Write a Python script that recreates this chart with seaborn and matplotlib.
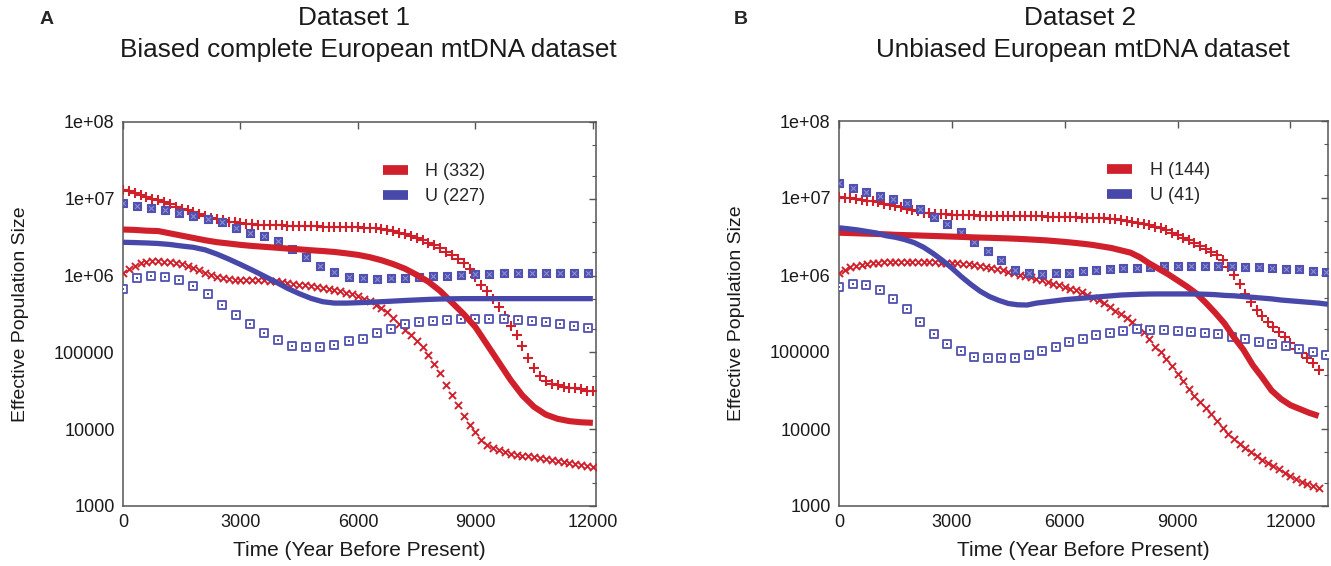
import numpy as np
import pandas as pd
import matplotlib
matplotlib.use("Agg")
import matplotlib.pyplot as plt
import seaborn as sns
from matplotlib.lines import Line2D
from matplotlib.ticker import LogLocator, FixedLocator, FixedFormatter, NullFormatter

# ---------------- data (log10 of effective population size) ----------------
# Dataset 1 (panel A)
t1_dense = np.arange(0, 12001, 150)      # red marker series
t1_med = np.arange(0, 12001, 300)        # median lines
t1_sq = np.arange(0, 11881, 360)         # blue marker series

h1_upper = [7.12, 7.097, 7.074, 7.05, 7.025, 7.002, 6.978, 6.956, 6.927, 6.897,
            6.872, 6.848, 6.823, 6.80, 6.777, 6.755, 6.737, 6.718, 6.703, 6.692,
            6.68, 6.675, 6.67, 6.665, 6.66, 6.658, 6.655, 6.653, 6.65, 6.648,
            6.646, 6.644, 6.642, 6.64, 6.638, 6.636, 6.634, 6.633, 6.632, 6.63,
            6.627, 6.624, 6.62, 6.617, 6.61, 6.60, 6.578, 6.56, 6.538, 6.513,
            6.487, 6.46, 6.43, 6.395, 6.36, 6.31, 6.27, 6.22, 6.16, 6.08,
            5.98, 5.88, 5.80, 5.70, 5.585, 5.47, 5.34, 5.226, 5.085, 4.93,
            4.80, 4.69, 4.63, 4.59, 4.57, 4.55, 4.54, 4.53, 4.52, 4.50, 4.495]
h1_lower = [6.04, 6.09, 6.13, 6.16, 6.18, 6.187, 6.187, 6.18, 6.174, 6.16,
            6.147, 6.122, 6.10, 6.067, 6.033, 6.007, 5.983, 5.965, 5.955, 5.948,
            5.948, 5.948, 5.947, 5.944, 5.94, 5.935, 5.928, 5.915, 5.905, 5.895,
            5.884, 5.873, 5.862, 5.851, 5.84, 5.827, 5.813, 5.795, 5.777, 5.758,
            5.731, 5.70, 5.665, 5.62, 5.575, 5.52, 5.445, 5.37, 5.295, 5.225,
            5.152, 5.065, 4.96, 4.85, 4.73, 4.58, 4.45, 4.31, 4.175, 4.06,
            3.97, 3.86, 3.80, 3.755, 3.725, 3.70, 3.68, 3.67, 3.656, 3.645,
            3.632, 3.62, 3.61, 3.60, 3.58, 3.57, 3.56, 3.55, 3.54, 3.525, 3.51]
h1_median = [6.60, 6.595, 6.585, 6.58, 6.55, 6.52, 6.49, 6.46, 6.435, 6.418,
             6.40, 6.386, 6.375, 6.364, 6.352, 6.342, 6.33, 6.32, 6.308, 6.29,
             6.27, 6.24, 6.20, 6.15, 6.09, 6.01, 5.92, 5.80, 5.65, 5.50,
             5.33, 5.10, 4.87, 4.64, 4.44, 4.29, 4.19, 4.135, 4.105, 4.09, 4.083]
u1_median = [6.434, 6.43, 6.425, 6.418, 6.405, 6.385, 6.368, 6.335, 6.28, 6.215,
             6.145, 6.072, 5.995, 5.917, 5.835, 5.765, 5.704, 5.66, 5.642, 5.642,
             5.647, 5.653, 5.66, 5.668, 5.676, 5.683, 5.69, 5.695, 5.698, 5.70,
             5.70, 5.70, 5.70, 5.70, 5.70, 5.70, 5.70, 5.70, 5.70, 5.70, 5.70]
u1_upper = [6.94, 6.91, 6.88, 6.85, 6.81, 6.78, 6.74, 6.70, 6.62, 6.56,
            6.51, 6.45, 6.35, 6.24, 6.13, 6.05, 5.98, 5.97, 5.96, 5.97,
            5.97, 5.98, 5.99, 6.00, 6.01, 6.02, 6.02, 6.03, 6.03, 6.03,
            6.03, 6.03, 6.03, 6.03]
u1_lower = [5.83, 5.97, 6.00, 5.98, 5.94, 5.86, 5.76, 5.62, 5.49, 5.37,
            5.25, 5.16, 5.08, 5.07, 5.07, 5.10, 5.15, 5.18, 5.25, 5.31,
            5.37, 5.39, 5.41, 5.42, 5.43, 5.44, 5.44, 5.43, 5.42, 5.41,
            5.39, 5.37, 5.35, 5.32]

# Dataset 2 (panel B)
t2_dense = np.arange(0, 12751, 150)
t2_hmed = np.arange(0, 12751, 250)
t2_umed = np.arange(0, 13001, 250)
t2_sq = np.arange(0, 12961, 360)

h2_upper = [7.015, 7.006, 6.998, 6.99, 6.978, 6.966, 6.955, 6.943, 6.926, 6.911,
            6.895, 6.877, 6.86, 6.842, 6.826, 6.811, 6.80, 6.795, 6.79, 6.786,
            6.782, 6.778, 6.776, 6.775, 6.773, 6.772, 6.771, 6.769, 6.768, 6.768,
            6.767, 6.766, 6.766, 6.765, 6.763, 6.762, 6.76, 6.758, 6.757, 6.755,
            6.753, 6.75, 6.748, 6.746, 6.744, 6.742, 6.739, 6.736, 6.731, 6.725,
            6.71, 6.70, 6.69, 6.676, 6.66, 6.645, 6.627, 6.605, 6.58, 6.55,
            6.52, 6.485, 6.45, 6.415, 6.38, 6.34, 6.30, 6.265, 6.19, 6.10,
            6.00, 5.88, 5.75, 5.65, 5.55, 5.47, 5.395, 5.33, 5.265, 5.195,
            5.12, 5.035, 4.99, 4.925, 4.86, 4.77]
h2_lower = [6.022, 6.06, 6.10, 6.12, 6.136, 6.148, 6.156, 6.162, 6.165, 6.167,
            6.168, 6.168, 6.168, 6.168, 6.168, 6.168, 6.168, 6.168, 6.161, 6.157,
            6.154, 6.151, 6.145, 6.138, 6.13, 6.118, 6.106, 6.095, 6.078, 6.06,
            6.043, 6.024, 6.005, 5.987, 5.97, 5.95, 5.933, 5.911, 5.889, 5.866,
            5.845, 5.824, 5.80, 5.777, 5.745, 5.707, 5.672, 5.63, 5.585, 5.537,
            5.49, 5.441, 5.395, 5.33, 5.26, 5.17, 5.07, 4.995, 4.915, 4.815,
            4.718, 4.62, 4.52, 4.423, 4.35, 4.275, 4.19, 4.10, 4.016, 3.94,
            3.868, 3.806, 3.75, 3.698, 3.65, 3.60, 3.56, 3.522, 3.478, 3.427,
            3.39, 3.354, 3.317, 3.28, 3.255, 3.23]
h2_median = [6.549, 6.545, 6.541, 6.537, 6.533, 6.528, 6.522, 6.518, 6.515, 6.511,
             6.507, 6.503, 6.499, 6.495, 6.49, 6.486, 6.483, 6.479, 6.475, 6.47,
             6.464, 6.457, 6.45, 6.44, 6.43, 6.418, 6.405, 6.39, 6.37, 6.35,
             6.32, 6.29, 6.23, 6.15, 6.08, 6.01, 5.93, 5.85, 5.76, 5.64,
             5.51, 5.37, 5.19, 5.03, 4.83, 4.67, 4.50, 4.39, 4.31, 4.26, 4.21, 4.17]
u2_median = [6.613, 6.60, 6.585, 6.565, 6.545, 6.51, 6.49, 6.46, 6.42, 6.36,
             6.28, 6.19, 6.09, 5.98, 5.88, 5.79, 5.72, 5.67, 5.63, 5.613,
             5.61, 5.635, 5.65, 5.665, 5.68, 5.69, 5.70, 5.71, 5.72, 5.73,
             5.74, 5.745, 5.75, 5.753, 5.754, 5.754, 5.754, 5.754, 5.753, 5.75,
             5.745, 5.735, 5.73, 5.72, 5.71, 5.70, 5.69, 5.675, 5.665, 5.655,
             5.645, 5.635, 5.62]
u2_upper = [7.197, 7.132, 7.076, 7.028, 6.981, 6.933, 6.86, 6.756, 6.661, 6.553,
            6.432, 6.311, 6.194, 6.065, 6.022, 6.009, 6.022, 6.03, 6.052, 6.065,
            6.078, 6.086, 6.095, 6.104, 6.117, 6.121, 6.121, 6.117, 6.117, 6.117,
            6.108, 6.104, 6.095, 6.078, 6.073, 6.056, 6.035]
u2_lower = [5.849, 5.888, 5.875, 5.806, 5.685, 5.555, 5.387, 5.231, 5.101, 5.015,
            4.933, 4.92, 4.92, 4.92, 4.955, 5.015, 5.063, 5.127, 5.166, 5.218,
            5.253, 5.274, 5.296, 5.287, 5.287, 5.279, 5.257, 5.248, 5.231, 5.197,
            5.171, 5.132, 5.106, 5.08, 5.037, 5.006, 4.963]

RED = "#d0202c"
BLUE = "#4848aa"
BLUE_MK = "#5050b0"
GRAY = "#555555"
TXT = "#1a1a1a"

sns.set_style("white")
plt.rcParams["font.family"] = ["Liberation Sans", "DejaVu Sans"]

fig = plt.figure(figsize=(13.31, 5.66), dpi=100)
ax1 = fig.add_axes([123 / 1331, 60 / 566, 473 / 1331, 384 / 566])
ax2 = fig.add_axes([839 / 1331, 60 / 566, 489 / 1331, 385 / 566])


def draw_panel(ax, t_dense, h_up, h_lo, t_hmed, h_med, t_umed, u_med, t_sq, u_up, u_lo,
               xmax, labels):
    # red marker envelopes
    sns.scatterplot(x=t_dense, y=10 ** np.array(h_up), marker="+", s=44, color=RED,
                    linewidth=1.5, ax=ax, zorder=3)
    sns.scatterplot(x=t_dense, y=10 ** np.array(h_lo), marker="x", s=26, color=RED,
                    linewidth=1.4, ax=ax, zorder=3)
    # blue marker envelopes
    sns.scatterplot(x=t_sq, y=10 ** np.array(u_up), marker="s", s=34, color=BLUE_MK,
                    edgecolor=BLUE_MK, linewidth=0.8, ax=ax, zorder=3)
    sns.scatterplot(x=t_sq, y=10 ** np.array(u_up), marker="x", s=12, color="#8c8cd0",
                    linewidth=0.8, ax=ax, zorder=3)
    sns.scatterplot(x=t_sq, y=10 ** np.array(u_lo), marker="s", s=34, facecolor="white",
                    edgecolor=BLUE_MK, linewidth=1.3, ax=ax, zorder=3)
    sns.scatterplot(x=t_sq, y=10 ** np.array(u_lo), marker="s", s=3, color=BLUE_MK,
                    linewidth=0, ax=ax, zorder=3)
    # medians
    sns.lineplot(x=t_hmed, y=10 ** np.array(h_med), color=RED, linewidth=4.4, ax=ax,
                 zorder=4, solid_capstyle="butt")
    sns.lineplot(x=t_umed, y=10 ** np.array(u_med), color=BLUE, linewidth=3.8, ax=ax,
                 zorder=5, solid_capstyle="butt")

    ax.set_yscale("log")
    ax.set_ylim(1e3, 1e8)
    ax.set_xlim(0, xmax)
    ax.yaxis.set_major_locator(FixedLocator([1e3, 1e4, 1e5, 1e6, 1e7, 1e8]))
    ax.yaxis.set_major_formatter(FixedFormatter(
        ["1000", "10000", "100000", "1e+06", "1e+07", "1e+08"]))
    ax.yaxis.set_minor_locator(LogLocator(base=10, subs=(2.0, 5.0)))
    ax.yaxis.set_minor_formatter(NullFormatter())
    ax.set_xticks([0, 3000, 6000, 9000, 12000])
    ax.tick_params(which="both", direction="in", top=True, right=True, colors=GRAY,
                   labelcolor=TXT, labelsize=13)
    ax.tick_params(which="major", length=5, width=1, pad=6)
    ax.tick_params(which="minor", length=3, width=0.8)
    for sp in ax.spines.values():
        sp.set_color(GRAY)
        sp.set_linewidth(1.1)
    ax.set_xlabel("Time (Year Before Present)", fontsize=15, color=TXT, labelpad=7)
    ax.set_ylabel("Effective Population Size", fontsize=14, color=TXT, labelpad=18)

    handles = [Line2D([], [], color=RED, lw=7, solid_capstyle="butt"),
               Line2D([], [], color=BLUE, lw=7, solid_capstyle="butt")]
    ax.legend(handles, labels, loc="upper left", bbox_to_anchor=(0.515, 0.935),
              frameon=False, fontsize=13, handlelength=1.4, handletextpad=0.95,
              labelspacing=0.45)


draw_panel(ax1, t1_dense, h1_upper, h1_lower, t1_med, h1_median, t1_med, u1_median,
           t1_sq, u1_upper, u1_lower, 12080, ["H (332)", "U (227)"])
draw_panel(ax2, t2_dense, h2_upper, h2_lower, t2_hmed, h2_median, t2_umed, u2_median,
           t2_sq, u2_upper, u2_lower, 13000, ["H (144)", "U (41)"])

# titles and panel letters
fig.text(354 / 1331, 1 - 18 / 566, "Dataset 1", ha="center", va="center",
         fontsize=18.8, color=TXT)
fig.text(368 / 1331, 1 - 50 / 566, "Biased complete European mtDNA dataset",
         ha="center", va="center", fontsize=18.8, color=TXT)
fig.text(1080 / 1331, 1 - 18 / 566, "Dataset 2", ha="center", va="center",
         fontsize=18.8, color=TXT)
fig.text(1083 / 1331, 1 - 50 / 566, "Unbiased European mtDNA dataset",
         ha="center", va="center", fontsize=18.8, color=TXT)

fig.text(47 / 1331, 1 - 19 / 566, "A", ha="center", va="center", fontsize=14,
         fontweight="bold")
fig.text(741 / 1331, 1 - 19 / 566, "B", ha="center", va="center", fontsize=14,
         fontweight="bold")

fig.savefig("out.png", dpi=100)
